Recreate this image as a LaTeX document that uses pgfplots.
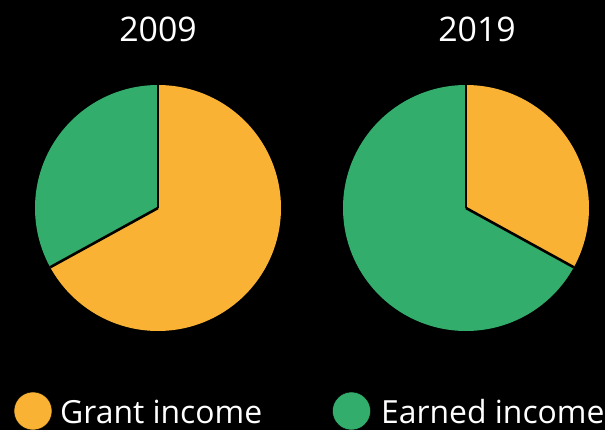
\documentclass[border=0pt]{standalone}
\usepackage{pgfplots}
\pgfplotsset{compat=1.18}
\usepackage{fontspec}
\setmainfont{Open Sans}
\definecolor{grant}{RGB}{249,178,52}
\definecolor{earned}{RGB}{50,173,107}
% shares in percent
\def\grantA{67}\def\earnedA{33}   % 2009
\def\grantB{33}\def\earnedB{67}   % 2019
\begin{document}
\begin{tikzpicture}
\fill[black] (0,0) rectangle (605bp,430bp);
\begin{axis}[
  at={(0,0)}, anchor=origin,
  x=1bp, y=1bp,
  xmin=0, xmax=605, ymin=0, ymax=430,
  hide axis, clip=false,
  trig format plots=deg,
]
% ---- 2009 pie (centre 158,222)
\addplot[fill=grant, draw=none, variable=\t, domain=90:90-3.6*\grantA, samples=200]
  ({158+123*cos(t)},{222+123*sin(t)}) -- (158,222) -- cycle;
\addplot[fill=earned, draw=none, variable=\t, domain=90-3.6*\grantA:-270, samples=200]
  ({158+123*cos(t)},{222+123*sin(t)}) -- (158,222) -- cycle;
\addplot[black, line width=2.6bp, variable=\t, domain=0:1, samples=2] ({158},{222+123*t});
\addplot[black, line width=2.6bp, variable=\t, domain=0:1, samples=2]
  ({158+123*t*cos(90-3.6*\grantA)},{222+123*t*sin(90-3.6*\grantA)});
% ---- 2019 pie (centre 466,222)
\addplot[fill=grant, draw=none, variable=\t, domain=90:90-3.6*\grantB, samples=200]
  ({466+123*cos(t)},{222+123*sin(t)}) -- (466,222) -- cycle;
\addplot[fill=earned, draw=none, variable=\t, domain=90-3.6*\grantB:-270, samples=200]
  ({466+123*cos(t)},{222+123*sin(t)}) -- (466,222) -- cycle;
\addplot[black, line width=2.6bp, variable=\t, domain=0:1, samples=2] ({466},{222+123*t});
\addplot[black, line width=2.6bp, variable=\t, domain=0:1, samples=2]
  ({466+123*t*cos(90-3.6*\grantB)},{222+123*t*sin(90-3.6*\grantB)});
% ---- titles
\node[white, anchor=base, font=\fontsize{34}{40}\selectfont] at (158,388) {2009};
\node[white, anchor=base, font=\fontsize{34}{40}\selectfont] at (477,388) {2019};
% ---- legend
\addplot[only marks, mark=*, mark size=19bp, mark options={fill=grant, draw=none}] coordinates {(33,19)};
\addplot[only marks, mark=*, mark size=19bp, mark options={fill=earned, draw=none}] coordinates {(351.5,19)};
\node[white, anchor=base west, inner sep=0pt, font=\fontsize{32}{38}\selectfont] at (60,7) {Grant income};
\node[white, anchor=base west, inner sep=0pt, font=\fontsize{32}{38}\selectfont] at (381,7) {Earned income};
\end{axis}
\end{tikzpicture}
\end{document}
